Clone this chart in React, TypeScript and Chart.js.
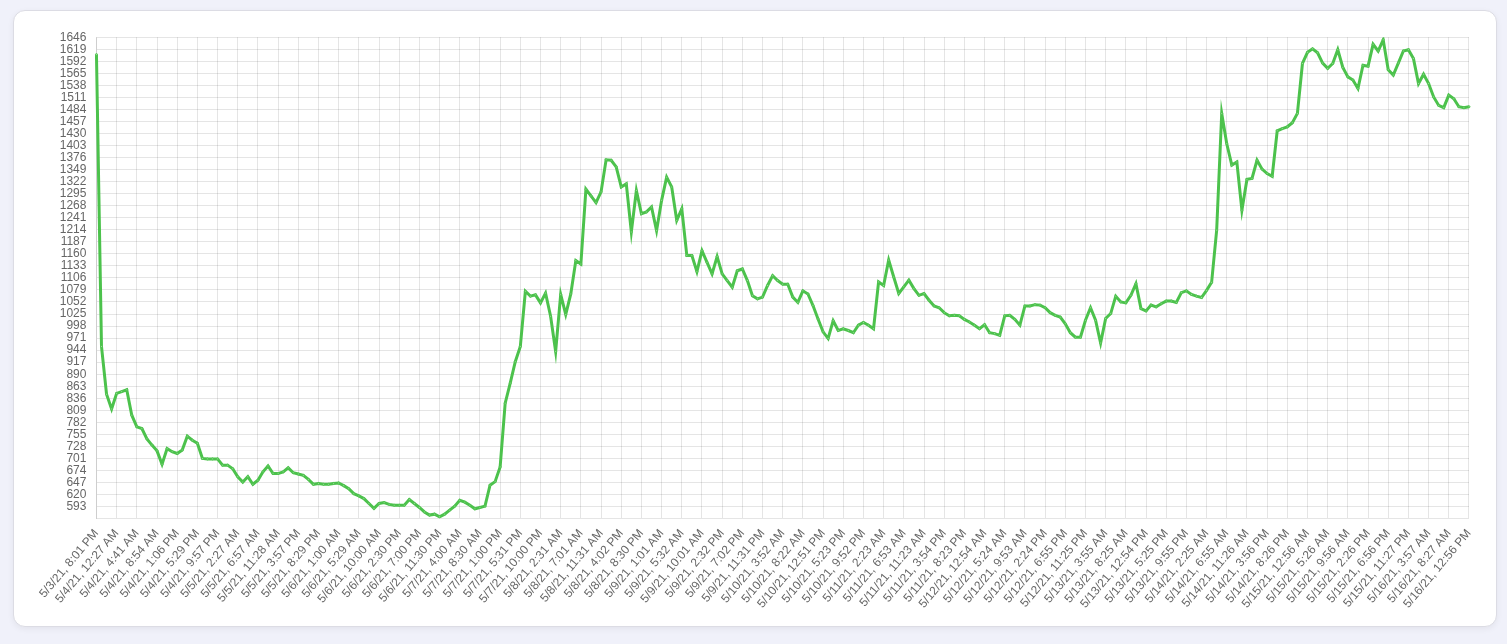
import { Chart, registerables } from "chart.js";
import { useEffect, useRef } from "react";

Chart.register(...registerables);

// labels shown on the x axis, one every 4 readings
const tickLabels = [
  "5/3/21, 8:01 PM", "5/4/21, 12:27 AM", "5/4/21, 4:41 AM", "5/4/21, 8:54 AM",
  "5/4/21, 1:06 PM", "5/4/21, 5:29 PM", "5/4/21, 9:57 PM", "5/5/21, 2:27 AM",
  "5/5/21, 6:57 AM", "5/5/21, 11:28 AM", "5/5/21, 3:57 PM", "5/5/21, 8:29 PM",
  "5/6/21, 1:00 AM", "5/6/21, 5:29 AM", "5/6/21, 10:00 AM", "5/6/21, 2:30 PM",
  "5/6/21, 7:00 PM", "5/6/21, 11:30 PM", "5/7/21, 4:00 AM", "5/7/21, 8:30 AM",
  "5/7/21, 1:00 PM", "5/7/21, 5:31 PM", "5/7/21, 10:00 PM", "5/8/21, 2:31 AM",
  "5/8/21, 7:01 AM", "5/8/21, 11:31 AM", "5/8/21, 4:02 PM", "5/8/21, 8:30 PM",
  "5/9/21, 1:01 AM", "5/9/21, 5:32 AM", "5/9/21, 10:01 AM", "5/9/21, 2:32 PM",
  "5/9/21, 7:02 PM", "5/9/21, 11:31 PM", "5/10/21, 3:52 AM", "5/10/21, 8:22 AM",
  "5/10/21, 12:51 PM", "5/10/21, 5:23 PM", "5/10/21, 9:52 PM", "5/11/21, 2:23 AM",
  "5/11/21, 6:53 AM", "5/11/21, 11:23 AM", "5/11/21, 3:54 PM", "5/11/21, 8:23 PM",
  "5/12/21, 12:54 AM", "5/12/21, 5:24 AM", "5/12/21, 9:53 AM", "5/12/21, 2:24 PM",
  "5/12/21, 6:55 PM", "5/12/21, 11:25 PM", "5/13/21, 3:55 AM", "5/13/21, 8:25 AM",
  "5/13/21, 12:54 PM", "5/13/21, 5:25 PM", "5/13/21, 9:55 PM", "5/14/21, 2:25 AM",
  "5/14/21, 6:55 AM", "5/14/21, 11:26 AM", "5/14/21, 3:56 PM", "5/14/21, 8:26 PM",
  "5/15/21, 12:56 AM", "5/15/21, 5:26 AM", "5/15/21, 9:56 AM", "5/15/21, 2:26 PM",
  "5/15/21, 6:56 PM", "5/15/21, 11:27 PM", "5/16/21, 3:57 AM", "5/16/21, 8:27 AM",
  "5/16/21, 12:56 PM",
];

const readingsPerLabel = 4;

const prices = [
  1607, 952, 845, 812, 847, 851, 855, 798, 772, 768,
  745, 731, 718, 688, 723, 716, 712, 720, 751, 742,
  735, 701, 700, 700, 700, 686, 686, 678, 660, 648,
  660, 643, 652, 671, 684, 667, 667, 671, 680, 669,
  666, 663, 654, 643, 645, 643, 643, 645, 646, 640,
  633, 622, 617, 611, 600, 589, 600, 602, 598, 596,
  596, 596, 609, 600, 591, 581, 574, 576, 570, 576,
  585, 594, 607, 603, 596, 588, 591, 594, 641, 649,
  682, 825, 870, 918, 952, 1076, 1065, 1068, 1050, 1072,
  1020, 941, 1069, 1024, 1070, 1145, 1137, 1305, 1290, 1275,
  1299, 1371, 1370, 1355, 1310, 1317, 1209, 1302, 1250, 1254,
  1265, 1212, 1280, 1332, 1310, 1235, 1261, 1156, 1156, 1120,
  1167, 1141, 1115, 1154, 1115, 1100, 1085, 1122, 1126, 1100,
  1066, 1059, 1063, 1089, 1111, 1100, 1092, 1092, 1063, 1051,
  1077, 1070, 1044, 1014, 985, 970, 1010, 988, 992, 988,
  983, 1000, 1006, 1000, 992, 1097, 1089, 1146, 1108, 1071,
  1086, 1101, 1082, 1067, 1071, 1056, 1043, 1039, 1028, 1021,
  1022, 1021, 1013, 1007, 1000, 992, 1001, 983, 981, 977,
  1021, 1022, 1013, 1000, 1043, 1043, 1046, 1045, 1039, 1028,
  1022, 1018, 1003, 983, 973, 973, 1011, 1039, 1011, 960,
  1015, 1026, 1065, 1052, 1050, 1067, 1093, 1037, 1032, 1045,
  1041, 1048, 1054, 1054, 1051, 1073, 1077, 1069, 1065, 1062,
  1078, 1096, 1213, 1475, 1407, 1359, 1366, 1258, 1327, 1329,
  1370, 1350, 1340, 1334, 1436, 1441, 1445, 1454, 1475, 1587,
  1612, 1620, 1611, 1588, 1576, 1587, 1618, 1578, 1557, 1550,
  1531, 1583, 1581, 1630, 1615, 1640, 1573, 1561, 1588, 1615,
  1618, 1598, 1542, 1563, 1542, 1512, 1493, 1488, 1516, 1508,
  1490, 1488, 1490,
];

const yTicks = [
  593, 620, 647, 674, 701, 728, 755, 782, 809, 836,
  863, 890, 917, 944, 971, 998, 1025, 1052, 1079, 1106,
  1133, 1160, 1187, 1214, 1241, 1268, 1295, 1322, 1349, 1376,
  1403, 1430, 1457, 1484, 1511, 1538, 1565, 1592, 1619, 1646,
];
const yMin = 566;
const yMax = 1646;

const GRID = "rgba(0,0,0,0.1)";
const LINE = "#4cc24c";

Chart.defaults.font.family = "'Liberation Sans', Arial, Helvetica, sans-serif";

const PriceChart = () => {
  const canvasRef = useRef<HTMLCanvasElement | null>(null);

  useEffect(() => {
    if (!canvasRef.current) return;
    const ctx = canvasRef.current.getContext("2d");
    if (!ctx) return;

    const labels = prices.map((_, i) =>
      i % readingsPerLabel === 0 ? tickLabels[i / readingsPerLabel] : ""
    );

    const chart = new Chart(ctx, {
      type: "line",
      data: {
        labels,
        datasets: [
          {
            data: prices,
            borderColor: LINE,
            borderWidth: 3,
            pointRadius: 1,
            pointBorderWidth: 1,
            pointBorderColor: LINE,
            pointBackgroundColor: "#9fdf9f",
            tension: 0,
            fill: false,
          },
        ],
      },
      options: {
        animation: false,
        responsive: true,
        maintainAspectRatio: false,
        plugins: {
          legend: { display: false },
          tooltip: { enabled: false },
        },
        scales: {
          x: {
            grid: {
              drawTicks: false,
              color: (c: any) =>
                c.index % readingsPerLabel === 0 ? GRID : "transparent",
            },
            ticks: {
              autoSkip: false,
              maxRotation: 50,
              padding: 8,
              color: "#666",
              font: { size: 12 },
              callback: (_v: any, i: number) => labels[i],
            },
          },
          y: {
            min: yMin,
            max: yMax,
            afterBuildTicks: (scale: any) => {
              scale.ticks = yTicks.map((value) => ({ value }));
            },
            grid: { drawTicks: false, color: GRID },
            ticks: {
              autoSkip: false,
              padding: 10,
              color: "#666",
              font: { size: 12 },
              callback: (v: any) => String(v),
            },
          },
        },
      },
    });

    return () => {
      chart.destroy();
    };
  }, []);

  return (
    <div style={{ position: "relative", width: 1454, height: 599 }}>
      <canvas ref={canvasRef} />
    </div>
  );
};

const App = () => {
  return (
    <div
      style={{
        background: "#f0f1fa",
        padding: "10px 10px 17px 13px",
        fontFamily: "'Liberation Sans', Arial, sans-serif",
      }}
    >
      <style>{"body{margin:0;background:#f0f1fa;}"}</style>
      <div
        style={{
          width: 1484,
          height: 617,
          boxSizing: "border-box",
          background: "#fff",
          border: "1px solid #dcdce4",
          borderRadius: 12,
          boxShadow: "0 2px 6px rgba(0,0,0,0.06)",
          padding: "9px 8px 7px 20px",
        }}
      >
        <PriceChart />
      </div>
    </div>
  );
};

export default App;
